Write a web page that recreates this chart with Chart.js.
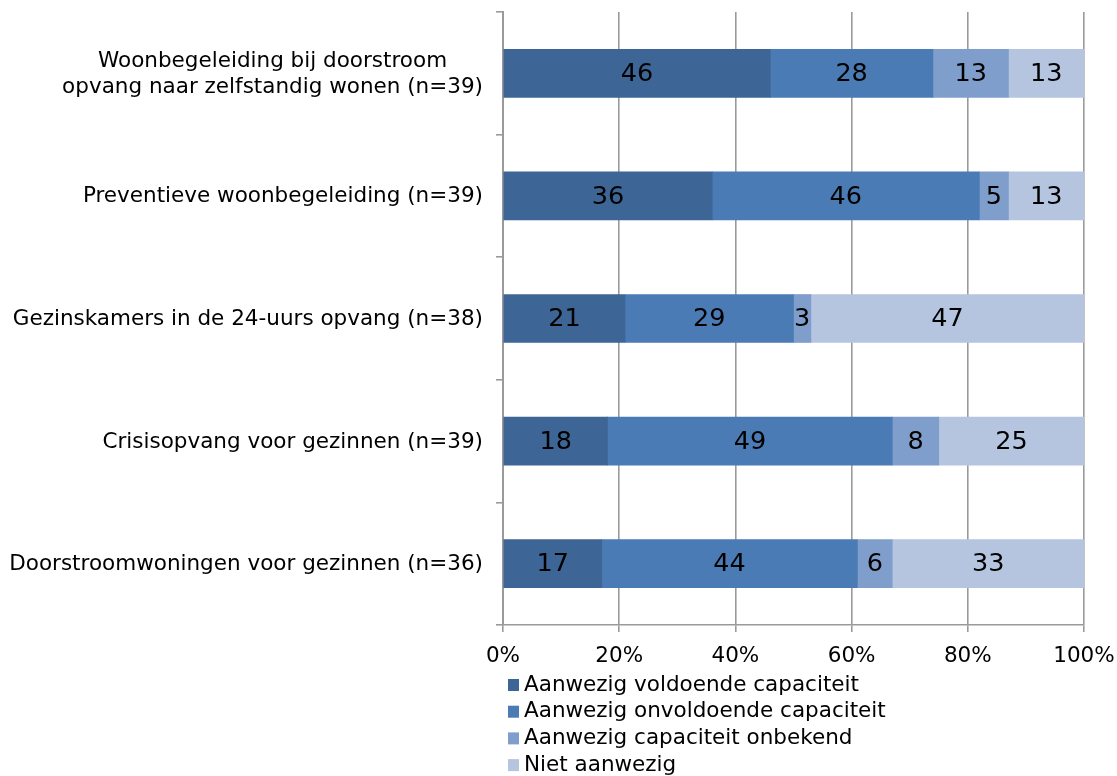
<!DOCTYPE html>
<html><head><meta charset="utf-8">
<script src="https://cdn.jsdelivr.net/npm/chart.js@4.4.0/dist/chart.umd.min.js"></script>
<style>html,body{margin:0;padding:0;background:#fff}#wrap{width:1117px;height:776px;position:relative}</style>
</head><body><div id="wrap"><canvas id="c" width="1117" height="776"></canvas></div>
<script>
const categories = [
  ["Woonbegeleiding bij doorstroom", "opvang naar zelfstandig wonen (n=39)"],
  ["Preventieve woonbegeleiding (n=39)"],
  ["Gezinskamers in de 24-uurs opvang (n=38)"],
  ["Crisisopvang voor gezinnen (n=39)"],
  ["Doorstroomwoningen voor gezinnen (n=36)"]
];
const seriesNames = ["Aanwezig voldoende capaciteit", "Aanwezig onvoldoende capaciteit", "Aanwezig capaciteit onbekend", "Niet aanwezig"];
const voldoende = [46, 36, 21, 18, 17];
const onvoldoende = [28, 46, 29, 49, 44];
const onbekend = [13, 5, 3, 8, 6];
const nietAanwezig = [13, 13, 47, 25, 33];
const xTickValues = [0, 20, 40, 60, 80, 100];
const seriesColors = ["#3D6596", "#4A7BB5", "#7F9ECB", "#B5C5E0"];

const FONT = '"DejaVu Sans", Verdana, sans-serif';
const GRID = "#9a9a9a";

const seriesData = [voldoende, onvoldoende, onbekend, nietAanwezig];
const datasets = seriesData.map((d, i) => ({
  label: seriesNames[i],
  data: d,
  backgroundColor: seriesColors[i],
  borderWidth: 0,
  barThickness: 48
}));

const yLabelPlugin = {
  id: 'yLabels',
  afterDraw(chart) {
    const ctx = chart.ctx;
    const ys = chart.scales.y;
    ctx.save();
    ctx.font = '21.5px ' + FONT;
    ctx.fillStyle = '#000';
    ctx.textBaseline = 'middle';
    ctx.textAlign = 'center';
    const right = ys.right - 20;
    const lh = 26.5;
    categories.forEach((lab, i) => {
      const lines = Array.isArray(lab) ? lab : [lab];
      const yc = ys.getPixelForTick(i) + 1;
      const w = Math.max(...lines.map(l => ctx.measureText(l).width));
      const cx = right - w / 2;
      lines.forEach((l, j) => ctx.fillText(l, cx, yc + (j - (lines.length - 1) / 2) * lh));
    });
    ctx.restore();
  }
};

const dataLabelPlugin = {
  id: 'dataLabels',
  afterDatasetsDraw(chart) {
    const ctx = chart.ctx;
    ctx.save();
    ctx.font = '25.5px ' + FONT;
    ctx.fillStyle = '#000';
    ctx.textAlign = 'center';
    ctx.textBaseline = 'middle';
    chart.data.datasets.forEach((ds, di) => {
      const meta = chart.getDatasetMeta(di);
      meta.data.forEach((el, i) => {
        const v = ds.data[i];
        if (!v) return;
        const p = el.getCenterPoint();
        ctx.fillText(String(v), p.x, p.y + 1);
      });
    });
    ctx.restore();
  }
};

const legendPlugin = {
  id: 'customLegend',
  afterDraw(chart) {
    const ctx = chart.ctx;
    const ca = chart.chartArea;
    ctx.save();
    ctx.font = '21.5px ' + FONT;
    ctx.textBaseline = 'middle';
    ctx.textAlign = 'left';
    const x0 = ca.left + 5;
    const y0 = ca.bottom + 60;
    const step = 26.7;
    seriesNames.forEach((name, i) => {
      const yc = y0 + i * step;
      ctx.fillStyle = seriesColors[i];
      ctx.fillRect(x0, yc - 6, 11, 12);
      ctx.fillStyle = '#000';
      ctx.fillText(name, x0 + 16, yc);
    });
    ctx.restore();
  }
};

new Chart(document.getElementById('c'), {
  type: 'bar',
  data: { labels: categories, datasets },
  options: {
    indexAxis: 'y',
    responsive: false,
    animation: false,
    devicePixelRatio: 1,
    layout: { padding: { left: 0, right: 33, top: 12, bottom: 104 } },
    plugins: { legend: { display: false }, tooltip: { enabled: false } },
    scales: {
      x: {
        stacked: true,
        min: 0, max: 100,
        afterBuildTicks(scale) { scale.ticks = xTickValues.map(v => ({ value: v })); },
        afterFit(scale) { scale.height = 47; scale.paddingLeft = 0; scale.paddingRight = 0; },
        ticks: {
          callback: v => v + '%',
          color: '#000',
          font: { family: FONT, size: 21.5 },
          padding: 12,
          maxRotation: 0
        },
        grid: { color: GRID, lineWidth: 1.6, drawTicks: true, tickLength: 7, tickColor: GRID },
        border: { display: true, color: GRID, width: 1.6 }
      },
      y: {
        stacked: true,
        afterFit(scale) { scale.width = 503; },
        ticks: { display: false },
        grid: { drawOnChartArea: false, drawTicks: true, tickLength: 7, color: GRID, lineWidth: 1.6 },
        border: { display: true, color: GRID, width: 2 }
      }
    }
  },
  plugins: [yLabelPlugin, dataLabelPlugin, legendPlugin]
});
</script>
</body></html>
